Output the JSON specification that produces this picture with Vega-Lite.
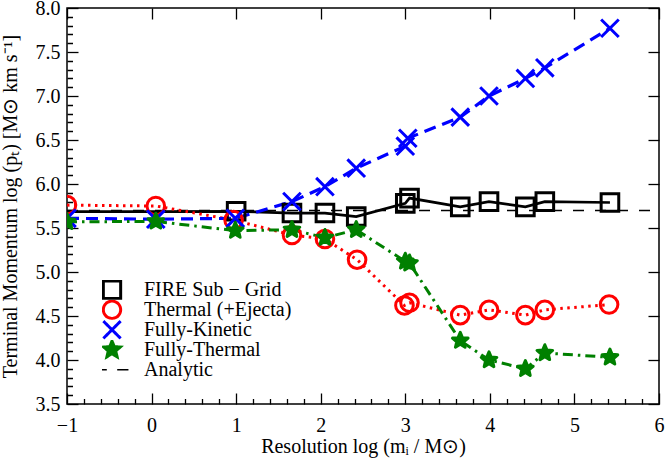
{
  "$schema": "https://vega.github.io/schema/vega-lite/v6.json",
  "width": 592,
  "height": 396,
  "autosize": {"type": "none"},
  "padding": {"left": 67, "top": 8, "right": 6, "bottom": 57},
  "background": "white",
  "config": {
    "view": {"stroke": "black", "strokeWidth": 1.5},
    "font": "Liberation Serif",
    "axis": {
      "zindex": 1,
      "domain": false, "ticks": true, "tickColor": "black", "tickWidth": 1.3,
      "grid": false,
      "labelFont": "Liberation Serif", "labelFontSize": 20, "labelColor": "black",
      "titleFont": "Liberation Serif", "titleFontSize": 20, "titleFontWeight": "normal", "titleColor": "black",
      "labelOverlap": false, "labelFlush": false
    }
  },
  "data": {"values": [
    {"series": "FIRE Sub − Grid", "x": -1, "y": 5.685},
    {"series": "FIRE Sub − Grid", "x": 0, "y": 5.685},
    {"series": "FIRE Sub − Grid", "x": 1.0, "y": 5.69},
    {"series": "FIRE Sub − Grid", "x": 1.66, "y": 5.67},
    {"series": "FIRE Sub − Grid", "x": 2.05, "y": 5.67},
    {"series": "FIRE Sub − Grid", "x": 2.42, "y": 5.63},
    {"series": "FIRE Sub − Grid", "x": 3.0, "y": 5.78},
    {"series": "FIRE Sub − Grid", "x": 3.05, "y": 5.84},
    {"series": "FIRE Sub − Grid", "x": 3.65, "y": 5.74},
    {"series": "FIRE Sub − Grid", "x": 3.99, "y": 5.80},
    {"series": "FIRE Sub − Grid", "x": 4.42, "y": 5.74},
    {"series": "FIRE Sub − Grid", "x": 4.65, "y": 5.80},
    {"series": "FIRE Sub − Grid", "x": 5.42, "y": 5.79},
    {"series": "Thermal (+Ejecta)", "x": -1, "y": 5.76},
    {"series": "Thermal (+Ejecta)", "x": 0.05, "y": 5.75},
    {"series": "Thermal (+Ejecta)", "x": 0.97, "y": 5.59},
    {"series": "Thermal (+Ejecta)", "x": 1.66, "y": 5.42},
    {"series": "Thermal (+Ejecta)", "x": 2.05, "y": 5.375},
    {"series": "Thermal (+Ejecta)", "x": 2.43, "y": 5.14},
    {"series": "Thermal (+Ejecta)", "x": 2.99, "y": 4.62},
    {"series": "Thermal (+Ejecta)", "x": 3.05, "y": 4.65},
    {"series": "Thermal (+Ejecta)", "x": 3.65, "y": 4.51},
    {"series": "Thermal (+Ejecta)", "x": 3.99, "y": 4.57},
    {"series": "Thermal (+Ejecta)", "x": 4.42, "y": 4.51},
    {"series": "Thermal (+Ejecta)", "x": 4.65, "y": 4.57},
    {"series": "Thermal (+Ejecta)", "x": 5.41, "y": 4.63},
    {"series": "Fully-Kinetic", "x": -1, "y": 5.61},
    {"series": "Fully-Kinetic", "x": 0.05, "y": 5.6},
    {"series": "Fully-Kinetic", "x": 0.99, "y": 5.61},
    {"series": "Fully-Kinetic", "x": 1.66, "y": 5.80},
    {"series": "Fully-Kinetic", "x": 2.05, "y": 5.97},
    {"series": "Fully-Kinetic", "x": 2.42, "y": 6.18},
    {"series": "Fully-Kinetic", "x": 3.0, "y": 6.43},
    {"series": "Fully-Kinetic", "x": 3.03, "y": 6.52},
    {"series": "Fully-Kinetic", "x": 3.65, "y": 6.76},
    {"series": "Fully-Kinetic", "x": 3.99, "y": 7.00},
    {"series": "Fully-Kinetic", "x": 4.42, "y": 7.20},
    {"series": "Fully-Kinetic", "x": 4.65, "y": 7.32},
    {"series": "Fully-Kinetic", "x": 5.42, "y": 7.77},
    {"series": "Fully-Thermal", "x": -1, "y": 5.57},
    {"series": "Fully-Thermal", "x": 0.05, "y": 5.575},
    {"series": "Fully-Thermal", "x": 0.99, "y": 5.47},
    {"series": "Fully-Thermal", "x": 1.66, "y": 5.48},
    {"series": "Fully-Thermal", "x": 2.05, "y": 5.39},
    {"series": "Fully-Thermal", "x": 2.42, "y": 5.48},
    {"series": "Fully-Thermal", "x": 3.0, "y": 5.12},
    {"series": "Fully-Thermal", "x": 3.05, "y": 5.10},
    {"series": "Fully-Thermal", "x": 3.65, "y": 4.22},
    {"series": "Fully-Thermal", "x": 3.99, "y": 4.00},
    {"series": "Fully-Thermal", "x": 4.42, "y": 3.90},
    {"series": "Fully-Thermal", "x": 4.65, "y": 4.08},
    {"series": "Fully-Thermal", "x": 5.42, "y": 4.03}
  ]},
  "resolve": {"axis": {"x": "independent", "y": "independent"}},
  "layer": [
    {
      "data": {"values": [{"series": "Analytic", "x": -1, "x2": 6, "y": 5.7}]},
      "mark": {"type": "rule", "color": "black", "strokeWidth": 1.5, "strokeDash": [11, 11]},
      "encoding": {
        "x": {"field": "x", "type": "quantitative", "scale": {"domain": [-1, 6], "nice": false, "zero": false},
          "axis": {"orient": "top", "labels": false, "title": null, "tickSize": 11, "offset": -11,
            "values": [-1, 0, 1, 2, 3, 4, 5, 6]}},
        "x2": {"field": "x2"},
        "y": {"field": "y", "type": "quantitative", "scale": {"domain": [3.5, 8], "nice": false, "zero": false},
          "axis": {"orient": "right", "labels": false, "title": null, "tickSize": -11,
            "values": [3.5, 4, 4.5, 5, 5.5, 6, 6.5, 7, 7.5, 8]}}
      }
    },
    {
      "transform": [{"filter": "datum.series === 'FIRE Sub − Grid'"}],
      "mark": {"type": "line", "clip": true, "strokeWidth": 2.7},
      "encoding": {
        "x": {"field": "x", "type": "quantitative",
          "axis": {"orient": "bottom", "title": "Resolution  log (mᵢ / M⊙)", "titlePadding": 1, "labelPadding": 22, "tickSize": -11,
            "values": [-1,-0.8,-0.6,-0.4,-0.2,0,0.2,0.4,0.6,0.8,1,1.2,1.4,1.6,1.8,2,2.2,2.4,2.6,2.8,3,3.2,3.4,3.6,3.8,4,4.2,4.4,4.6,4.8,5,5.2,5.4,5.6,5.8,6],
            "labelExpr": "abs(datum.value - round(datum.value)) < 0.001 ? format(datum.value, 'd') : ''",
            "tickDash": {"condition": {"test": "abs(datum.value - round(datum.value)) > 0.001", "value": [5.5, 30]}, "value": [11, 0]}}},
        "y": {"field": "y", "type": "quantitative",
          "axis": {"orient": "left", "title": "Terminal Momentum  log (pₜ) [M⊙ km s⁻¹]", "titlePadding": 15, "labelPadding": 7, "tickSize": 11, "offset": -11,
            "values": [3.5,3.6,3.7,3.8,3.9,4,4.1,4.2,4.3,4.4,4.5,4.6,4.7,4.8,4.9,5,5.1,5.2,5.3,5.4,5.5,5.6,5.7,5.8,5.9,6,6.1,6.2,6.3,6.4,6.5,6.6,6.7,6.8,6.9,7,7.1,7.2,7.3,7.4,7.5,7.6,7.7,7.8,7.9,8],
            "labelExpr": "abs(datum.value*2 - round(datum.value*2)) < 0.001 ? format(datum.value, '.1f') : ''",
            "tickDash": {"condition": {"test": "abs(datum.value*2 - round(datum.value*2)) > 0.001", "value": [0, 5.5, 5.5, 0]}, "value": [11, 0]}}},
        "color": {"field": "series", "type": "nominal",
          "scale": {"domain": ["FIRE Sub − Grid", "Thermal (+Ejecta)", "Fully-Kinetic", "Fully-Thermal", "Analytic"],
                    "range": ["black", "#ff0000", "#0000ff", "#008000", "black"]},
          "legend": {"title": null, "orient": "none", "legendX": 35, "legendY": 272, "padding": 0, "rowPadding": -1.75, "clipHeight": 19.5,
            "labelFont": "Liberation Serif", "labelFontSize": 20, "labelColor": "black", "labelOffset": 22,
            "symbolSize": 300, "symbolStrokeWidth": 3,
            "encode": {"symbols": {"update": {
              "fill": {"signal": "datum.value === 'Fully-Thermal' ? '#008000' : 'transparent'"},
              "strokeDash": {"value": [1, 0]},
              "opacity": {"value": 1},
              "strokeWidth": {"signal": "datum.value === 'Analytic' ? 1.5 : 3"}}}}}}
      }
    },
    {
      "transform": [{"filter": "datum.series === 'Thermal (+Ejecta)'"}],
      "mark": {"type": "line", "clip": true, "strokeWidth": 3, "strokeDash": [2.5, 4.5]},
      "encoding": {
        "x": {"field": "x", "type": "quantitative", "axis": null},
        "y": {"field": "y", "type": "quantitative", "axis": null},
        "color": {"field": "series", "type": "nominal"}
      }
    },
    {
      "transform": [{"filter": "datum.series === 'Fully-Kinetic'"}],
      "mark": {"type": "line", "clip": true, "strokeWidth": 3.2, "strokeDash": [12, 7]},
      "encoding": {
        "x": {"field": "x", "type": "quantitative", "axis": null},
        "y": {"field": "y", "type": "quantitative", "axis": null},
        "color": {"field": "series", "type": "nominal"}
      }
    },
    {
      "transform": [{"filter": "datum.series === 'Fully-Thermal'"}],
      "mark": {"type": "line", "clip": true, "strokeWidth": 3, "strokeDash": [10, 5, 2.5, 5]},
      "encoding": {
        "x": {"field": "x", "type": "quantitative", "axis": null},
        "y": {"field": "y", "type": "quantitative", "axis": null},
        "color": {"field": "series", "type": "nominal"}
      }
    },
    {
      "transform": [{"filter": "(datum.series !== 'FIRE Sub − Grid' || datum.x > 0.5) && datum.series !== 'Fully-Thermal'"}],
      "mark": {"type": "point", "clip": true, "filled": false, "strokeWidth": 3, "opacity": 1},
      "encoding": {
        "x": {"field": "x", "type": "quantitative", "axis": null},
        "y": {"field": "y", "type": "quantitative", "axis": null},
        "color": {"field": "series", "type": "nominal"},
        "shape": {"field": "series", "type": "nominal",
          "scale": {"domain": ["FIRE Sub − Grid", "Thermal (+Ejecta)", "Fully-Kinetic", "Fully-Thermal", "Analytic"],
                    "range": ["square", "circle", "M-1,-1L1,1M-1,1L1,-1",
                              "M0,-1L0.265,-0.364L0.951,-0.309L0.428,0.139L0.588,0.809L0,0.45L-0.588,0.809L-0.428,0.139L-0.951,-0.309L-0.265,-0.364Z",
                              "M-1.9,0L-0.6,0M0.6,0L1.9,0"]}},
        "size": {"value": 310}
      }
    },
    {
      "transform": [{"filter": "datum.series === 'Fully-Thermal'"}],
      "mark": {"type": "point", "clip": true, "filled": false, "strokeWidth": 3, "strokeJoin": "round", "fill": "#008000", "opacity": 1},
      "encoding": {
        "x": {"field": "x", "type": "quantitative", "axis": null},
        "y": {"field": "y", "type": "quantitative", "axis": null},
        "color": {"field": "series", "type": "nominal"},
        "shape": {"field": "series", "type": "nominal"},
        "size": {"value": 270}
      }
    }
  ]
}
